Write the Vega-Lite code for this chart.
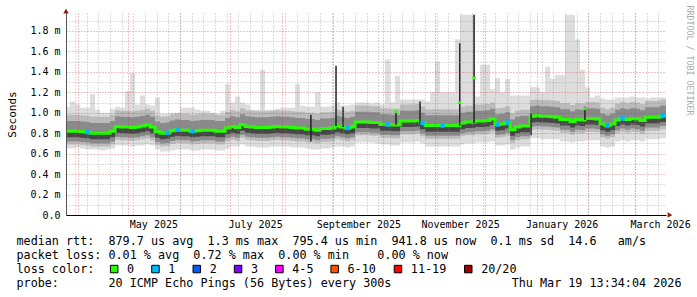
{
  "$schema": "https://vega.github.io/schema/vega-lite/v6.json",
  "width": 600,
  "height": 202,
  "autosize": {"type": "none"},
  "padding": {"left": 66, "top": 13, "right": 31, "bottom": 82},
  "background": "#ffffff",
  "config": {"view": {"stroke": null}, "font": "DejaVu Sans Mono"},
  "datasets": {
    "rtt": [
      {"t":"2025-03-24T13:34:00Z","lo":0.65,"s1":0.69,"s2":0.72,"s3":0.76,"med":0.82,"s4":0.92,"s5":0.98,"hi":1.06,"loss":"0"},
      {"t":"2025-03-27","lo":0.65,"s1":0.69,"s2":0.72,"s3":0.76,"med":0.82,"s4":0.92,"s5":0.98,"hi":1.11,"loss":"0"},
      {"t":"2025-03-30","lo":0.66,"s1":0.69,"s2":0.72,"s3":0.76,"med":0.82,"s4":0.92,"s5":0.98,"hi":1.08,"loss":"0"},
      {"t":"2025-04-02","lo":0.65,"s1":0.685,"s2":0.715,"s3":0.755,"med":0.815,"s4":0.915,"s5":0.975,"hi":1.05,"loss":"0"},
      {"t":"2025-04-05","lo":0.64,"s1":0.68,"s2":0.71,"s3":0.75,"med":0.81,"s4":0.91,"s5":0.97,"hi":1.05,"loss":"1"},
      {"t":"2025-04-08","lo":0.64,"s1":0.67,"s2":0.70,"s3":0.74,"med":0.80,"s4":0.90,"s5":0.96,"hi":1.18,"loss":"0"},
      {"t":"2025-04-11","lo":0.64,"s1":0.67,"s2":0.70,"s3":0.74,"med":0.80,"s4":0.90,"s5":0.96,"hi":1.03,"loss":"0"},
      {"t":"2025-04-14","lo":0.63,"s1":0.67,"s2":0.70,"s3":0.74,"med":0.80,"s4":0.90,"s5":0.96,"hi":1.0,"loss":"0"},
      {"t":"2025-04-17","lo":0.64,"s1":0.67,"s2":0.70,"s3":0.74,"med":0.80,"s4":0.90,"s5":0.96,"hi":1.0,"loss":"0"},
      {"t":"2025-04-20","lo":0.65,"s1":0.69,"s2":0.72,"s3":0.76,"med":0.82,"s4":0.92,"s5":0.98,"hi":1.04,"loss":"0"},
      {"t":"2025-04-23","lo":0.68,"s1":0.735,"s2":0.765,"s3":0.805,"med":0.865,"s4":0.965,"s5":1.025,"hi":1.06,"loss":"0"},
      {"t":"2025-04-26","lo":0.68,"s1":0.73,"s2":0.76,"s3":0.80,"med":0.86,"s4":0.96,"s5":1.02,"hi":1.05,"loss":"0"},
      {"t":"2025-04-29","lo":0.68,"s1":0.73,"s2":0.76,"s3":0.80,"med":0.86,"s4":0.96,"s5":1.02,"hi":1.21,"loss":"0"},
      {"t":"2025-05-02","lo":0.67,"s1":0.725,"s2":0.755,"s3":0.795,"med":0.855,"s4":0.955,"s5":1.015,"hi":1.39,"loss":"0"},
      {"t":"2025-05-05","lo":0.68,"s1":0.73,"s2":0.76,"s3":0.80,"med":0.86,"s4":0.96,"s5":1.02,"hi":1.08,"loss":"0"},
      {"t":"2025-05-08","lo":0.68,"s1":0.74,"s2":0.77,"s3":0.81,"med":0.87,"s4":0.97,"s5":1.03,"hi":1.17,"loss":"0"},
      {"t":"2025-05-11","lo":0.69,"s1":0.75,"s2":0.78,"s3":0.82,"med":0.88,"s4":0.98,"s5":1.04,"hi":1.08,"loss":"0"},
      {"t":"2025-05-14","lo":0.68,"s1":0.73,"s2":0.76,"s3":0.80,"med":0.86,"s4":0.96,"s5":1.02,"hi":1.07,"loss":"0"},
      {"t":"2025-05-17","lo":0.64,"s1":0.685,"s2":0.715,"s3":0.755,"med":0.815,"s4":0.915,"s5":0.975,"hi":1.15,"loss":"0"},
      {"t":"2025-05-20","lo":0.62,"s1":0.67,"s2":0.70,"s3":0.74,"med":0.80,"s4":0.90,"s5":0.96,"hi":0.99,"loss":"0"},
      {"t":"2025-05-23","lo":0.62,"s1":0.675,"s2":0.705,"s3":0.745,"med":0.805,"s4":0.905,"s5":0.965,"hi":0.99,"loss":"1"},
      {"t":"2025-05-26","lo":0.63,"s1":0.695,"s2":0.725,"s3":0.765,"med":0.825,"s4":0.925,"s5":0.985,"hi":1.0,"loss":"0"},
      {"t":"2025-05-29","lo":0.64,"s1":0.705,"s2":0.735,"s3":0.775,"med":0.835,"s4":0.935,"s5":0.995,"hi":1.0,"loss":"1"},
      {"t":"2025-06-01","lo":0.64,"s1":0.70,"s2":0.73,"s3":0.77,"med":0.83,"s4":0.93,"s5":0.99,"hi":1.05,"loss":"0"},
      {"t":"2025-06-04","lo":0.64,"s1":0.70,"s2":0.73,"s3":0.77,"med":0.83,"s4":0.93,"s5":0.99,"hi":1.05,"loss":"0"},
      {"t":"2025-06-07","lo":0.63,"s1":0.69,"s2":0.72,"s3":0.76,"med":0.82,"s4":0.92,"s5":0.98,"hi":1.05,"loss":"1"},
      {"t":"2025-06-10","lo":0.63,"s1":0.695,"s2":0.725,"s3":0.765,"med":0.825,"s4":0.925,"s5":0.985,"hi":1.03,"loss":"0"},
      {"t":"2025-06-13","lo":0.64,"s1":0.70,"s2":0.73,"s3":0.77,"med":0.83,"s4":0.93,"s5":0.99,"hi":1.02,"loss":"0"},
      {"t":"2025-06-16","lo":0.64,"s1":0.70,"s2":0.73,"s3":0.77,"med":0.83,"s4":0.93,"s5":0.99,"hi":1.02,"loss":"0"},
      {"t":"2025-06-19","lo":0.64,"s1":0.70,"s2":0.73,"s3":0.77,"med":0.83,"s4":0.93,"s5":0.99,"hi":1.0,"loss":"0"},
      {"t":"2025-06-22","lo":0.63,"s1":0.69,"s2":0.72,"s3":0.76,"med":0.82,"s4":0.92,"s5":0.98,"hi":0.99,"loss":"0"},
      {"t":"2025-06-25","lo":0.63,"s1":0.69,"s2":0.72,"s3":0.76,"med":0.82,"s4":0.92,"s5":0.98,"hi":1.02,"loss":"0"},
      {"t":"2025-06-28","lo":0.65,"s1":0.72,"s2":0.75,"s3":0.79,"med":0.85,"s4":0.95,"s5":1.01,"hi":1.28,"loss":"0"},
      {"t":"2025-07-01","lo":0.67,"s1":0.735,"s2":0.765,"s3":0.805,"med":0.865,"s4":0.965,"s5":1.025,"hi":1.1,"loss":"0"},
      {"t":"2025-07-04","lo":0.67,"s1":0.725,"s2":0.755,"s3":0.795,"med":0.855,"s4":0.955,"s5":1.015,"hi":1.16,"loss":"0"},
      {"t":"2025-07-07","lo":0.69,"s1":0.755,"s2":0.785,"s3":0.825,"med":0.885,"s4":0.985,"s5":1.045,"hi":1.1,"loss":"0"},
      {"t":"2025-07-10","lo":0.67,"s1":0.735,"s2":0.765,"s3":0.805,"med":0.865,"s4":0.965,"s5":1.025,"hi":1.08,"loss":"0"},
      {"t":"2025-07-13","lo":0.67,"s1":0.73,"s2":0.76,"s3":0.80,"med":0.86,"s4":0.96,"s5":1.02,"hi":1.03,"loss":"0"},
      {"t":"2025-07-16","lo":0.66,"s1":0.725,"s2":0.755,"s3":0.795,"med":0.855,"s4":0.955,"s5":1.015,"hi":1.03,"loss":"0"},
      {"t":"2025-07-19","lo":0.66,"s1":0.725,"s2":0.755,"s3":0.795,"med":0.855,"s4":0.955,"s5":1.015,"hi":1.42,"loss":"0"},
      {"t":"2025-07-22","lo":0.66,"s1":0.725,"s2":0.755,"s3":0.795,"med":0.855,"s4":0.955,"s5":1.015,"hi":1.03,"loss":"0"},
      {"t":"2025-07-25","lo":0.67,"s1":0.73,"s2":0.76,"s3":0.80,"med":0.86,"s4":0.96,"s5":1.02,"hi":1.03,"loss":"0"},
      {"t":"2025-07-28","lo":0.67,"s1":0.735,"s2":0.765,"s3":0.805,"med":0.865,"s4":0.965,"s5":1.025,"hi":1.04,"loss":"0"},
      {"t":"2025-07-31","lo":0.67,"s1":0.73,"s2":0.76,"s3":0.80,"med":0.86,"s4":0.96,"s5":1.02,"hi":1.05,"loss":"0"},
      {"t":"2025-08-03","lo":0.67,"s1":0.73,"s2":0.76,"s3":0.80,"med":0.86,"s4":0.96,"s5":1.02,"hi":1.05,"loss":"0"},
      {"t":"2025-08-06","lo":0.66,"s1":0.725,"s2":0.755,"s3":0.795,"med":0.855,"s4":0.955,"s5":1.015,"hi":1.05,"loss":"0"},
      {"t":"2025-08-09","lo":0.66,"s1":0.72,"s2":0.75,"s3":0.79,"med":0.85,"s4":0.95,"s5":1.01,"hi":1.28,"loss":"0"},
      {"t":"2025-08-12","lo":0.66,"s1":0.72,"s2":0.75,"s3":0.79,"med":0.85,"s4":0.95,"s5":1.01,"hi":1.07,"loss":"0"},
      {"t":"2025-08-15","lo":0.65,"s1":0.71,"s2":0.74,"s3":0.78,"med":0.84,"s4":0.94,"s5":1.0,"hi":1.06,"loss":"0"},
      {"t":"2025-08-18","lo":0.64,"s1":0.71,"s2":0.74,"s3":0.78,"med":0.84,"s4":0.94,"s5":1.0,"hi":1.06,"loss":"0"},
      {"t":"2025-08-21","lo":0.64,"s1":0.70,"s2":0.73,"s3":0.77,"med":0.83,"s4":0.93,"s5":0.99,"hi":1.2,"loss":"0"},
      {"t":"2025-08-24","lo":0.65,"s1":0.715,"s2":0.745,"s3":0.785,"med":0.845,"s4":0.945,"s5":1.005,"hi":1.06,"loss":"0"},
      {"t":"2025-08-27","lo":0.65,"s1":0.715,"s2":0.745,"s3":0.785,"med":0.845,"s4":0.945,"s5":1.005,"hi":1.06,"loss":"0"},
      {"t":"2025-08-30","lo":0.66,"s1":0.72,"s2":0.75,"s3":0.79,"med":0.85,"s4":0.95,"s5":1.01,"hi":1.07,"loss":"0"},
      {"t":"2025-09-02","lo":0.67,"s1":0.74,"s2":0.77,"s3":0.81,"med":0.87,"s4":0.97,"s5":1.03,"hi":1.1,"loss":"0"},
      {"t":"2025-09-05","lo":0.67,"s1":0.73,"s2":0.76,"s3":0.80,"med":0.86,"s4":0.96,"s5":1.02,"hi":1.07,"loss":"0"},
      {"t":"2025-09-08","lo":0.66,"s1":0.72,"s2":0.75,"s3":0.79,"med":0.85,"s4":0.95,"s5":1.01,"hi":1.07,"loss":"1"},
      {"t":"2025-09-11","lo":0.67,"s1":0.73,"s2":0.76,"s3":0.80,"med":0.86,"s4":0.96,"s5":1.02,"hi":1.08,"loss":"0"},
      {"t":"2025-09-14","lo":0.71,"s1":0.78,"s2":0.81,"s3":0.85,"med":0.91,"s4":1.01,"s5":1.07,"hi":1.1,"loss":"0"},
      {"t":"2025-09-17","lo":0.71,"s1":0.78,"s2":0.81,"s3":0.85,"med":0.91,"s4":1.01,"s5":1.07,"hi":1.1,"loss":"0"},
      {"t":"2025-09-20","lo":0.71,"s1":0.78,"s2":0.81,"s3":0.85,"med":0.91,"s4":1.01,"s5":1.07,"hi":1.1,"loss":"0"},
      {"t":"2025-09-23","lo":0.71,"s1":0.775,"s2":0.805,"s3":0.845,"med":0.905,"s4":1.005,"s5":1.065,"hi":1.09,"loss":"0"},
      {"t":"2025-09-26","lo":0.70,"s1":0.775,"s2":0.805,"s3":0.845,"med":0.905,"s4":1.005,"s5":1.065,"hi":1.1,"loss":"0"},
      {"t":"2025-09-29","lo":0.69,"s1":0.755,"s2":0.785,"s3":0.825,"med":0.885,"s4":0.985,"s5":1.045,"hi":1.08,"loss":"0"},
      {"t":"2025-10-02","lo":0.69,"s1":0.755,"s2":0.785,"s3":0.825,"med":0.885,"s4":0.985,"s5":1.045,"hi":1.52,"loss":"1"},
      {"t":"2025-10-05","lo":0.68,"s1":0.75,"s2":0.78,"s3":0.82,"med":0.88,"s4":0.98,"s5":1.04,"hi":1.1,"loss":"0"},
      {"t":"2025-10-08","lo":0.68,"s1":0.75,"s2":0.78,"s3":0.82,"med":0.88,"s4":0.98,"s5":1.04,"hi":1.36,"loss":"0"},
      {"t":"2025-10-11","lo":0.71,"s1":0.79,"s2":0.82,"s3":0.86,"med":0.92,"s4":1.02,"s5":1.08,"hi":1.13,"loss":"0"},
      {"t":"2025-10-14","lo":0.71,"s1":0.79,"s2":0.82,"s3":0.86,"med":0.92,"s4":1.02,"s5":1.08,"hi":1.13,"loss":"0"},
      {"t":"2025-10-17","lo":0.71,"s1":0.79,"s2":0.82,"s3":0.86,"med":0.92,"s4":1.02,"s5":1.08,"hi":1.13,"loss":"0"},
      {"t":"2025-10-20","lo":0.72,"s1":0.795,"s2":0.825,"s3":0.865,"med":0.925,"s4":1.025,"s5":1.085,"hi":1.13,"loss":"0"},
      {"t":"2025-10-23","lo":0.70,"s1":0.77,"s2":0.80,"s3":0.84,"med":0.90,"s4":1.0,"s5":1.06,"hi":1.13,"loss":"1"},
      {"t":"2025-10-26","lo":0.67,"s1":0.745,"s2":0.775,"s3":0.815,"med":0.875,"s4":0.975,"s5":1.035,"hi":1.11,"loss":"0"},
      {"t":"2025-10-29","lo":0.67,"s1":0.745,"s2":0.775,"s3":0.815,"med":0.875,"s4":0.975,"s5":1.035,"hi":1.2,"loss":"0"},
      {"t":"2025-11-01","lo":0.67,"s1":0.745,"s2":0.775,"s3":0.815,"med":0.875,"s4":0.975,"s5":1.035,"hi":1.5,"loss":"0"},
      {"t":"2025-11-04","lo":0.67,"s1":0.745,"s2":0.775,"s3":0.815,"med":0.875,"s4":0.975,"s5":1.035,"hi":1.2,"loss":"1"},
      {"t":"2025-11-07","lo":0.67,"s1":0.745,"s2":0.775,"s3":0.815,"med":0.875,"s4":0.975,"s5":1.035,"hi":1.2,"loss":"0"},
      {"t":"2025-11-10","lo":0.67,"s1":0.745,"s2":0.775,"s3":0.815,"med":0.875,"s4":0.975,"s5":1.035,"hi":1.2,"loss":"0"},
      {"t":"2025-11-13","lo":0.67,"s1":0.745,"s2":0.775,"s3":0.815,"med":0.875,"s4":0.975,"s5":1.035,"hi":1.72,"loss":"0"},
      {"t":"2025-11-16","lo":0.69,"s1":0.77,"s2":0.80,"s3":0.84,"med":0.90,"s4":1.0,"s5":1.06,"hi":1.96,"loss":"0"},
      {"t":"2025-11-19","lo":0.70,"s1":0.78,"s2":0.81,"s3":0.85,"med":0.91,"s4":1.01,"s5":1.07,"hi":1.96,"loss":"0"},
      {"t":"2025-11-22","lo":0.70,"s1":0.78,"s2":0.81,"s3":0.85,"med":0.91,"s4":1.01,"s5":1.07,"hi":1.96,"loss":"0"},
      {"t":"2025-11-25","lo":0.71,"s1":0.79,"s2":0.82,"s3":0.86,"med":0.92,"s4":1.02,"s5":1.08,"hi":1.16,"loss":"0"},
      {"t":"2025-11-28","lo":0.71,"s1":0.79,"s2":0.82,"s3":0.86,"med":0.92,"s4":1.02,"s5":1.08,"hi":1.47,"loss":"0"},
      {"t":"2025-12-01","lo":0.71,"s1":0.795,"s2":0.825,"s3":0.865,"med":0.925,"s4":1.025,"s5":1.085,"hi":1.47,"loss":"0"},
      {"t":"2025-12-04","lo":0.72,"s1":0.81,"s2":0.84,"s3":0.88,"med":0.94,"s4":1.04,"s5":1.1,"hi":1.23,"loss":"0"},
      {"t":"2025-12-07","lo":0.68,"s1":0.755,"s2":0.785,"s3":0.825,"med":0.885,"s4":0.985,"s5":1.045,"hi":1.34,"loss":"1"},
      {"t":"2025-12-10","lo":0.68,"s1":0.76,"s2":0.79,"s3":0.83,"med":0.89,"s4":0.99,"s5":1.05,"hi":1.2,"loss":"0"},
      {"t":"2025-12-13","lo":0.69,"s1":0.775,"s2":0.805,"s3":0.845,"med":0.905,"s4":1.005,"s5":1.065,"hi":1.33,"loss":"1"},
      {"t":"2025-12-16","lo":0.64,"s1":0.705,"s2":0.735,"s3":0.775,"med":0.835,"s4":0.935,"s5":0.995,"hi":1.17,"loss":"0"},
      {"t":"2025-12-19","lo":0.66,"s1":0.73,"s2":0.76,"s3":0.80,"med":0.86,"s4":0.96,"s5":1.02,"hi":1.17,"loss":"0"},
      {"t":"2025-12-22","lo":0.67,"s1":0.74,"s2":0.77,"s3":0.81,"med":0.87,"s4":0.97,"s5":1.03,"hi":1.17,"loss":"0"},
      {"t":"2025-12-25","lo":0.67,"s1":0.74,"s2":0.77,"s3":0.81,"med":0.87,"s4":0.97,"s5":1.03,"hi":1.17,"loss":"0"},
      {"t":"2025-12-28","lo":0.75,"s1":0.835,"s2":0.865,"s3":0.905,"med":0.965,"s4":1.065,"s5":1.125,"hi":1.25,"loss":"0"},
      {"t":"2025-12-31","lo":0.75,"s1":0.84,"s2":0.87,"s3":0.91,"med":0.97,"s4":1.07,"s5":1.13,"hi":1.25,"loss":"0"},
      {"t":"2026-01-03","lo":0.74,"s1":0.835,"s2":0.865,"s3":0.905,"med":0.965,"s4":1.065,"s5":1.125,"hi":1.2,"loss":"0"},
      {"t":"2026-01-06","lo":0.74,"s1":0.835,"s2":0.865,"s3":0.905,"med":0.965,"s4":1.065,"s5":1.125,"hi":1.45,"loss":"0"},
      {"t":"2026-01-09","lo":0.74,"s1":0.83,"s2":0.86,"s3":0.90,"med":0.96,"s4":1.06,"s5":1.12,"hi":1.33,"loss":"0"},
      {"t":"2026-01-12","lo":0.74,"s1":0.825,"s2":0.855,"s3":0.895,"med":0.955,"s4":1.055,"s5":1.115,"hi":1.37,"loss":"0"},
      {"t":"2026-01-15","lo":0.72,"s1":0.805,"s2":0.835,"s3":0.875,"med":0.935,"s4":1.035,"s5":1.095,"hi":1.37,"loss":"0"},
      {"t":"2026-01-18","lo":0.72,"s1":0.805,"s2":0.835,"s3":0.875,"med":0.935,"s4":1.035,"s5":1.095,"hi":1.96,"loss":"0"},
      {"t":"2026-01-21","lo":0.71,"s1":0.785,"s2":0.815,"s3":0.855,"med":0.915,"s4":1.015,"s5":1.075,"hi":1.96,"loss":"0"},
      {"t":"2026-01-24","lo":0.72,"s1":0.805,"s2":0.835,"s3":0.875,"med":0.935,"s4":1.035,"s5":1.095,"hi":1.72,"loss":"0"},
      {"t":"2026-01-27","lo":0.72,"s1":0.80,"s2":0.83,"s3":0.87,"med":0.93,"s4":1.03,"s5":1.09,"hi":1.42,"loss":"0"},
      {"t":"2026-01-30","lo":0.73,"s1":0.815,"s2":0.845,"s3":0.885,"med":0.945,"s4":1.045,"s5":1.105,"hi":1.25,"loss":"0"},
      {"t":"2026-02-02","lo":0.73,"s1":0.815,"s2":0.845,"s3":0.885,"med":0.945,"s4":1.045,"s5":1.105,"hi":1.15,"loss":"0"},
      {"t":"2026-02-05","lo":0.73,"s1":0.81,"s2":0.84,"s3":0.88,"med":0.94,"s4":1.04,"s5":1.1,"hi":1.17,"loss":"0"},
      {"t":"2026-02-08","lo":0.67,"s1":0.76,"s2":0.79,"s3":0.83,"med":0.89,"s4":0.99,"s5":1.05,"hi":1.14,"loss":"0"},
      {"t":"2026-02-11","lo":0.66,"s1":0.745,"s2":0.775,"s3":0.815,"med":0.875,"s4":0.975,"s5":1.035,"hi":1.13,"loss":"1"},
      {"t":"2026-02-14","lo":0.67,"s1":0.76,"s2":0.79,"s3":0.83,"med":0.89,"s4":0.99,"s5":1.05,"hi":1.13,"loss":"0"},
      {"t":"2026-02-17","lo":0.72,"s1":0.80,"s2":0.83,"s3":0.87,"med":0.93,"s4":1.03,"s5":1.09,"hi":1.15,"loss":"0"},
      {"t":"2026-02-20","lo":0.73,"s1":0.815,"s2":0.845,"s3":0.885,"med":0.945,"s4":1.045,"s5":1.105,"hi":1.15,"loss":"1"},
      {"t":"2026-02-23","lo":0.72,"s1":0.805,"s2":0.835,"s3":0.875,"med":0.935,"s4":1.035,"s5":1.095,"hi":1.15,"loss":"0"},
      {"t":"2026-02-26","lo":0.73,"s1":0.815,"s2":0.845,"s3":0.885,"med":0.945,"s4":1.045,"s5":1.105,"hi":1.16,"loss":"0"},
      {"t":"2026-03-01","lo":0.73,"s1":0.81,"s2":0.84,"s3":0.88,"med":0.94,"s4":1.04,"s5":1.1,"hi":1.15,"loss":"0"},
      {"t":"2026-03-04","lo":0.72,"s1":0.795,"s2":0.825,"s3":0.865,"med":0.925,"s4":1.025,"s5":1.085,"hi":1.15,"loss":"0"},
      {"t":"2026-03-07","lo":0.74,"s1":0.825,"s2":0.855,"s3":0.895,"med":0.955,"s4":1.055,"s5":1.115,"hi":1.14,"loss":"0"},
      {"t":"2026-03-10","lo":0.74,"s1":0.825,"s2":0.855,"s3":0.895,"med":0.955,"s4":1.055,"s5":1.115,"hi":1.15,"loss":"0"},
      {"t":"2026-03-13","lo":0.74,"s1":0.825,"s2":0.855,"s3":0.895,"med":0.955,"s4":1.055,"s5":1.115,"hi":1.15,"loss":"0"},
      {"t":"2026-03-16","lo":0.75,"s1":0.84,"s2":0.87,"s3":0.91,"med":0.97,"s4":1.07,"s5":1.13,"hi":1.15,"loss":"1"},
      {"t":"2026-03-19T13:34:00Z","lo":0.75,"s1":0.84,"s2":0.87,"s3":0.91,"med":0.97,"s4":1.07,"s5":1.13,"hi":1.15,"loss":"0"}
    ],
    "spk": [
      {"t":"2025-08-18T12:00:00Z","y1":0.72,"y2":0.98},
      {"t":"2025-09-02T14:00:00Z","y1":0.87,"y2":1.46},
      {"t":"2025-09-06T20:00:00Z","y1":0.86,"y2":1.06},
      {"t":"2025-10-08T14:00:00Z","y1":0.88,"y2":1.02,"g":1.01},
      {"t":"2025-10-23T00:00:00Z","y1":0.88,"y2":1.11},
      {"t":"2025-11-15T20:00:00Z","y1":0.87,"y2":1.68,"g":1.10},
      {"t":"2025-11-24T10:00:00Z","y1":0.90,"y2":1.96,"g":1.34},
      {"t":"2025-12-28T14:00:00Z","y1":0.78,"y2":0.99},
      {"t":"2026-01-29T22:00:00Z","y1":0.93,"y2":1.06,"g":1.04}
    ],
    "arrows": [
      {"t":"2025-03-24T13:34:00Z","v":1.995,"dir":"up"},
      {"t":"2026-03-21T23:00:00Z","v":0,"dir":"right"}
    ]
  },
  "layer": [
    {
      "data": {"name": "rtt"},
      "mark": {"type": "area", "interpolate": "step-after", "color": "#dddddd", "clip": true},
      "encoding": {
        "x": {"field": "t", "type": "temporal",
          "scale": {"type": "utc", "domain": [{"year":2025,"month":3,"date":24,"hours":13,"minutes":34,"utc":true},{"year":2026,"month":3,"date":19,"hours":13,"minutes":34,"utc":true}]},
          "axis": {"orient": "bottom", "values": [
            {"year":2025,"month":4,"date":1,"utc":true},{"year":2025,"month":5,"date":1,"utc":true},{"year":2025,"month":6,"date":1,"utc":true},
            {"year":2025,"month":7,"date":1,"utc":true},{"year":2025,"month":8,"date":1,"utc":true},{"year":2025,"month":9,"date":1,"utc":true},
            {"year":2025,"month":10,"date":1,"utc":true},{"year":2025,"month":11,"date":1,"utc":true},{"year":2025,"month":12,"date":1,"utc":true},
            {"year":2026,"month":1,"date":1,"utc":true},{"year":2026,"month":2,"date":1,"utc":true},{"year":2026,"month":3,"date":1,"utc":true}],
            "grid": true, "gridColor": "#c2292b", "gridOpacity": 0.55, "gridDash": [1, 2], "gridWidth": 1,
            "labels": false, "ticks": false, "domain": true, "domainColor": "#000000", "domainWidth": 1, "title": null, "zindex": 1}},
        "y": {"field": "lo", "type": "quantitative",
          "scale": {"domain": [0, 1.976], "nice": false, "zero": false},
          "axis": {"orient": "left", "values": [0, 0.2, 0.4, 0.6, 0.8, 1.0, 1.2, 1.4, 1.6, 1.8],
            "grid": true, "gridColor": "#c2292b", "gridOpacity": 0.55, "gridDash": [1, 2], "ticks": false,
            "domain": true, "domainColor": "#555555",
            "labelExpr": "datum.value == 0 ? '0.0' : format(datum.value, '.1f') + ' m'",
            "labelFont": "DejaVu Sans Mono", "labelFontSize": 10, "labelColor": "#000000", "labelPadding": 6,
            "title": "Seconds", "titleX": -54, "titleY": 101, "titleAngle": 270, "titleAlign": "center", "titleBaseline": "middle",
            "titleFont": "DejaVu Sans Mono", "titleFontSize": 11, "titleFontWeight": "normal", "titleColor": "#000000", "zindex": 1}},
        "y2": {"field": "hi"}
      }
    },
    {
      "data": {"name": "rtt"},
      "mark": {"type": "area", "interpolate": "step-after", "color": "#bbbbbb", "clip": true},
      "encoding": {
        "x": {"field": "t", "type": "temporal",
          "scale": {"type": "utc", "domain": [{"year":2025,"month":3,"date":24,"hours":13,"minutes":34,"utc":true},{"year":2026,"month":3,"date":19,"hours":13,"minutes":34,"utc":true}]},
          "axis": {"orient": "bottom", "tickCount": {"interval": "week", "step": 1},
            "grid": true, "gridColor": "#8c8c8c", "gridOpacity": 0.6, "gridDash": [1, 2],
            "labels": false, "ticks": false, "domain": false, "title": null, "zindex": 1}},
        "y": {"field": "s1", "type": "quantitative",
          "scale": {"domain": [0, 1.976], "nice": false, "zero": false},
          "axis": {"orient": "left", "values": [0.1, 0.3, 0.5, 0.7, 0.9, 1.1, 1.3, 1.5, 1.7, 1.9],
            "grid": true, "gridColor": "#8c8c8c", "gridOpacity": 0.6, "gridDash": [1, 2],
            "labels": false, "ticks": false, "domain": false, "title": null, "zindex": 1}},
        "y2": {"field": "s5"}
      }
    },
    {
      "data": {"name": "rtt"},
      "mark": {"type": "area", "interpolate": "step-after", "color": "#8a8a8a", "clip": true},
      "encoding": {
        "x": {"field": "t", "type": "temporal",
          "scale": {"type": "utc", "domain": [{"year":2025,"month":3,"date":24,"hours":13,"minutes":34,"utc":true},{"year":2026,"month":3,"date":19,"hours":13,"minutes":34,"utc":true}]},
          "axis": {"orient": "bottom", "values": [
            {"year":2025,"month":5,"date":16,"utc":true},{"year":2025,"month":7,"date":16,"utc":true},{"year":2025,"month":9,"date":16,"utc":true},
            {"year":2025,"month":11,"date":16,"utc":true},{"year":2026,"month":1,"date":16,"utc":true},{"year":2026,"month":3,"date":16,"utc":true}],
            "format": "%B %Y", "grid": false, "ticks": false, "domain": false,
            "labelFont": "DejaVu Sans Mono", "labelFontSize": 10, "labelColor": "#000000", "labelPadding": 4,
            "labelFlush": false, "labelOverlap": false,
            "title": [
              "median rtt:\u00a0\u00a0879.7 us avg\u00a0\u00a01.3 ms max\u00a0\u00a0795.4 us min\u00a0\u00a0941.8 us now\u00a0\u00a00.1 ms sd\u00a0\u00a014.6\u00a0\u00a0\u00a0am/s",
              "packet loss: 0.01 % avg\u00a0\u00a00.72 % max\u00a0\u00a00.00 % min\u00a0\u00a0\u00a0\u00a00.00 % now",
              "loss color:",
              "probe:\u00a0\u00a0\u00a0\u00a0\u00a0\u00a0\u00a020 ICMP Echo Pings (56 Bytes) every 300s\u00a0\u00a0\u00a0\u00a0\u00a0\u00a0\u00a0\u00a0\u00a0\u00a0\u00a0\u00a0\u00a0\u00a0\u00a0\u00a0\u00a0Thu Mar 19 13:34:04 2026"
            ],
            "titleX": -50, "titleY": 29.5, "titleAlign": "left", "titleBaseline": "alphabetic", "titleLineHeight": 14.1,
            "titleFont": "DejaVu Sans Mono", "titleFontSize": 11.75, "titleFontWeight": "normal", "titleColor": "#000000", "zindex": 1}},
        "y": {"field": "s2", "type": "quantitative",
          "scale": {"domain": [0, 1.976], "nice": false, "zero": false},
          "axis": {"orient": "right", "grid": false, "labels": false, "ticks": false, "domain": false,
            "title": "RRDTOOL / TOBI OETIKER", "titleX": 22, "titleY": -8, "titleAngle": 90, "titleAlign": "left", "titleBaseline": "middle",
            "titleFont": "DejaVu Sans Mono", "titleFontSize": 8.3, "titleFontWeight": "normal", "titleColor": "#aaaaaa", "zindex": 1}},
        "y2": {"field": "s4"}
      }
    },
    {
      "data": {"name": "rtt"},
      "mark": {"type": "area", "interpolate": "step-after", "color": "#474747", "clip": true},
      "encoding": {
        "x": {"field": "t", "type": "temporal", "axis": null},
        "y": {"field": "s3", "type": "quantitative", "axis": null},
        "y2": {"field": "med"}
      }
    },
    {
      "data": {"name": "rtt"},
      "mark": {"type": "line", "interpolate": "step-after", "color": "#26ff00", "strokeWidth": 3, "clip": true},
      "encoding": {
        "x": {"field": "t", "type": "temporal", "axis": null},
        "y": {"field": "med", "type": "quantitative", "axis": null}
      }
    },
    {
      "data": {"name": "spk"},
      "mark": {"type": "rule", "color": "#222222", "strokeWidth": 1.5, "clip": true},
      "encoding": {
        "x": {"field": "t", "type": "temporal", "axis": null},
        "y": {"field": "y1", "type": "quantitative", "axis": null},
        "y2": {"field": "y2"}
      }
    },
    {
      "data": {"name": "spk"},
      "transform": [{"filter": "datum.g != null"}],
      "mark": {"type": "point", "shape": "square", "filled": true, "size": 9, "color": "#26ff00", "opacity": 1, "clip": true},
      "encoding": {
        "x": {"field": "t", "type": "temporal", "axis": null},
        "y": {"field": "g", "type": "quantitative", "axis": null}
      }
    },
    {
      "data": {"name": "rtt"},
      "transform": [{"filter": "datum.loss != '0'"}],
      "mark": {"type": "point", "shape": "square", "filled": true, "size": 20, "opacity": 1, "xOffset": 2.5, "clip": true},
      "encoding": {
        "x": {"field": "t", "type": "temporal", "axis": null},
        "y": {"field": "med", "type": "quantitative", "axis": null},
        "color": {"field": "loss", "type": "nominal",
          "scale": {"domain": ["0", "1", "2", "3", "4-5", "6-10", "11-19", "20/20"],
                    "range": ["#26ff00", "#00b8ff", "#0059ff", "#7e00ff", "#ff00ff", "#ff5500", "#ff0000", "#a10000"]},
          "legend": {"orient": "none", "legendX": 42.3, "legendY": 250, "direction": "horizontal", "title": null,
            "padding": 0, "symbolType": "square", "symbolSize": 56, "symbolStrokeColor": "#000000", "symbolStrokeWidth": 1,
            "symbolOpacity": 1, "labelFont": "DejaVu Sans Mono", "labelFontSize": 11.75, "labelColor": "#000000",
            "labelOffset": 7, "columnPadding": 15.3,
            "encode": {"symbols": {"update": {"size": {"value": 56}, "stroke": {"value": "#000000"}, "strokeWidth": {"value": 1}, "opacity": {"value": 1}}}}}}
      }
    },
    {
      "data": {"name": "arrows"},
      "mark": {"type": "point", "filled": true, "size": 30, "color": "#8b1a1a", "opacity": 1, "clip": false},
      "encoding": {
        "x": {"field": "t", "type": "temporal", "axis": null},
        "y": {"field": "v", "type": "quantitative", "axis": null},
        "shape": {"field": "dir", "type": "nominal", "legend": null,
          "scale": {"domain": ["up", "right"], "range": ["triangle-up", "triangle-right"]}}
      }
    }
  ],
  "resolve": {"axis": {"x": "independent", "y": "independent"}}
}
